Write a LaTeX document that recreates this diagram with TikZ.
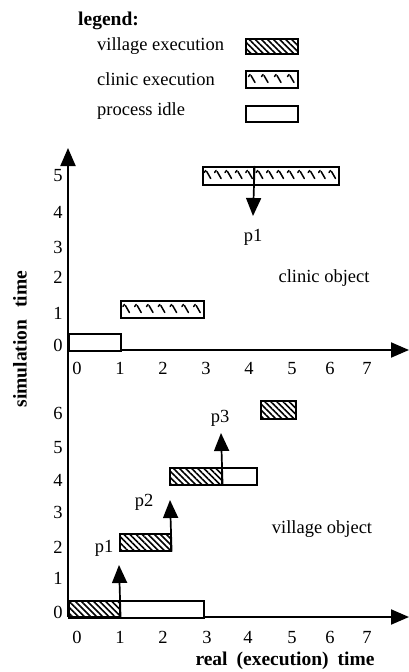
\documentclass[tikz,border=0pt]{standalone}
\usepackage{fontspec}
\setmainfont{Liberation Serif}
\usetikzlibrary{arrows.meta,patterns.meta}

\tikzset{
  box/.style={draw, line width=1.6pt, inner sep=0pt, anchor=north west},
  village/.style={box, pattern={Lines[angle=-45,distance=4.3pt,line width=1.6pt]}},
  clinic/.style={box, fill=white},
  idle/.style={box, fill=white},
  axis/.style={line width=2pt, -{Triangle[width=15pt,length=18pt]}},
  msg/.style={line width=1.7pt, -{Triangle[width=15pt,length=18pt]}},
  tick/.style={line width=1.5pt, line cap=round, line join=round},
  lbl/.style={font=\fontsize{18.5}{20}\selectfont, inner sep=0pt},
  num/.style={lbl, text height=12pt, text depth=0pt},
  blbl/.style={font=\fontsize{19.5}{22}\selectfont\bfseries, inner sep=0pt},
}

% clinic execution texture: short flick followed by a longer backslash stroke
% #1 left x, #2 top y, #3 number of strokes, #4 spacing
\newcommand\clinicmarks[4]{%
  \foreach \k in {1,...,#3}{%
    \pgfmathsetmacro\mx{#1+#4*(\k-0.5)}%
    \draw[tick] (\mx-3,#2+6.5) -- (\mx-1.5,#2+4.5);
    \draw[tick] (\mx-0.5,#2+5.5) -- (\mx+3.5,#2+12.5);
  }}

\begin{document}
\begin{tikzpicture}[x=1pt,y=-1pt]
\useasboundingbox (0,0) rectangle (409,672);

% ---------- legend ----------
\node[blbl, anchor=west] (legtitle) at (78,21) {legend:};
\node[lbl, anchor=west] (legv) at (97,46) {village execution};
\node[lbl, anchor=west] (legc) at (97,79) {clinic execution};
\node[lbl, anchor=west] (legi) at (97,111) {process idle};
\node[village, minimum width=52pt, minimum height=15pt] (lv) at (245,38) {};
\node[clinic,  minimum width=52pt, minimum height=17pt] (lc) at (245,70) {};
\clinicmarks{245}{70}{4}{13}
\node[idle,    minimum width=52pt, minimum height=16pt] (li) at (245,105) {};

% ---------- axes ----------
\coordinate (O1) at (68,350);
\coordinate (O2) at (68,617);
\coordinate (ytop) at (68,148);
\coordinate (x1end) at (409,350);
\coordinate (x2end) at (409,617);
\draw[axis] (O2) -- (ytop);
\draw[axis] (O1) -- (x1end);
\draw[axis] (O2) -- (x2end);

% axis titles
\node[blbl, rotate=90] (simtime) at (20,339) {simulation\hspace{12pt}time};
\node[blbl] (realtime) at (285,661) {real\hspace{9pt}(execution)\hspace{9pt}time};

% ---------- clinic object (upper chart) ----------
\foreach \v/\y in {0/345,1/313,2/277,3/247,4/212,5/175}
  \node[num] (cy\v) at (58,\y) {\v};
\foreach \v/\x in {0/77,1/120,2/163,3/206,4/249,5/292,6/330,7/367}
  \node[num] (cx\v) at (\x,368) {\v};

\node[idle, minimum width=52pt, minimum height=17pt] (ci0) at (68,333) {};
\node[clinic, minimum width=83pt, minimum height=17pt] (c1) at (120,300) {};
\clinicmarks{120}{300}{7}{11.8}
\node[clinic, minimum width=51pt, minimum height=18pt] (c5a) at (202,166) {};
\node[clinic, minimum width=85pt, minimum height=18pt] (c5b) at (253,166) {};
\clinicmarks{202}{166}{13}{10.4}
\coordinate (cp1tip) at (253,216);
\draw[msg] (c5a.north east) -- (cp1tip);
\node[lbl] (cp1) at (253,237) {p1};
\node[lbl] (clinicobj) at (324,278) {clinic object};

% ---------- village object (lower chart) ----------
\foreach \v/\y in {0/612,1/578,2/547,3/512,4/480,5/447,6/413}
  \node[num] (vy\v) at (58,\y) {\v};
\foreach \v/\x in {0/77,1/120,2/163,3/207,4/248,5/292,6/330,7/367}
  \node[num] (vx\v) at (\x,637) {\v};

\node[village, minimum width=51pt, minimum height=17pt] (v0) at (68,600) {};
\node[idle,    minimum width=84pt, minimum height=17pt] (vi0) at (119,600) {};
\node[village, minimum width=51pt, minimum height=17pt] (v2) at (119,533) {};
\node[village, minimum width=52pt, minimum height=17pt] (v4) at (169,467) {};
\node[idle,    minimum width=35pt, minimum height=17pt] (vi4) at (221,467) {};
\node[village, minimum width=35pt, minimum height=18pt] (v6) at (260,400) {};

\coordinate (vp1tip) at (119,565);
\coordinate (vp2tip) at (170,500);
\coordinate (vp3tip) at (221,433);
\draw[msg] (v0.south east) -- (vp1tip);
\draw[msg] (v2.south east) -- (vp2tip);
\draw[msg] (v4.south east) -- (vp3tip);
\node[lbl] (vp1) at (104,548) {p1};
\node[lbl] (vp2) at (144,502) {p2};
\node[lbl] (vp3) at (220,418) {p3};
\node[lbl] (villageobj) at (322,529) {village object};

\end{tikzpicture}
\end{document}
